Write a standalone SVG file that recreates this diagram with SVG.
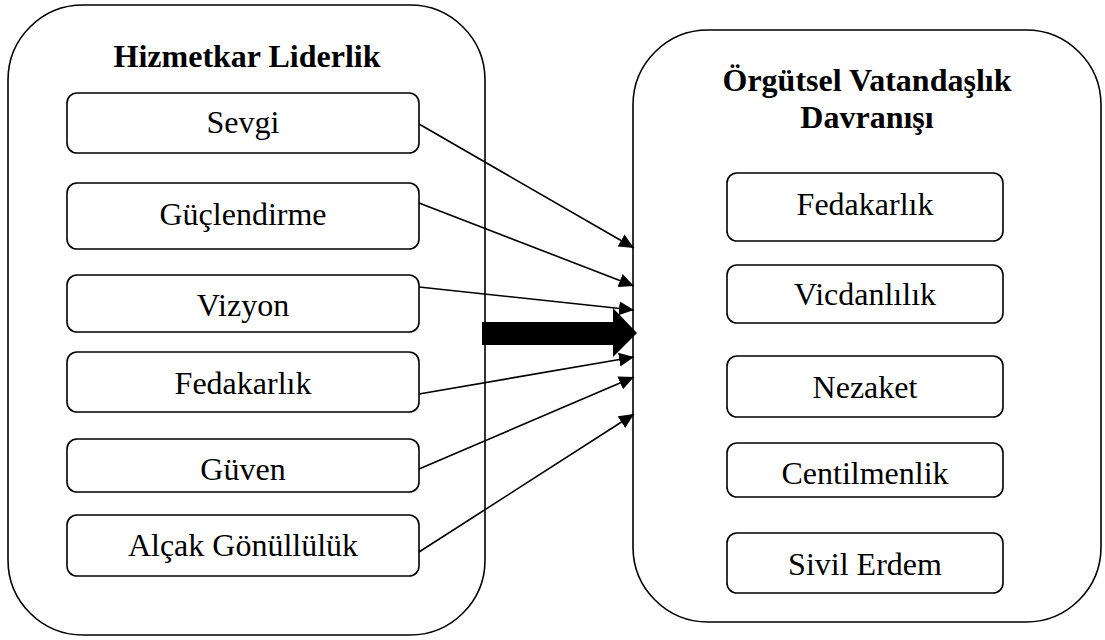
<svg xmlns="http://www.w3.org/2000/svg" width="1105" height="640" viewBox="0 0 1105 640">
<style>
.outer{fill:none;stroke:#000;stroke-width:1.6}
.box{fill:#fff;stroke:#000;stroke-width:1.6}
.con{stroke:#000;stroke-width:1.6;fill:none;marker-end:url(#ah)}
</style>
<defs>
<marker id="ah" markerUnits="userSpaceOnUse" markerWidth="16" markerHeight="14" refX="15" refY="7" orient="auto">
<path d="M0,0 L15,7 L0,14 Z" fill="#000"/>
</marker>
</defs>
<rect width="1105" height="640" fill="#fff"/>
<g id="hizmetkar-liderlik">
<rect class="outer" x="8" y="5" width="477" height="630" rx="75" ry="75"/>
<text x="247" y="67" font-family="Liberation Serif, serif" font-size="32" font-weight="bold" text-anchor="middle">Hizmetkar Liderlik</text>
</g>
<g id="sevgi"><rect class="box" x="67" y="93" width="352" height="60" rx="10"/><text x="243" y="133" font-family="Liberation Serif, serif" font-size="32" text-anchor="middle">Sevgi</text></g>
<g id="guclendirme"><rect class="box" x="67" y="183" width="352" height="66" rx="10"/><text x="243" y="225" font-family="Liberation Serif, serif" font-size="32" text-anchor="middle">Güçlendirme</text></g>
<g id="vizyon"><rect class="box" x="67" y="275" width="352" height="57" rx="10"/><text x="243" y="316" font-family="Liberation Serif, serif" font-size="32" text-anchor="middle">Vizyon</text></g>
<g id="fedakarlik-l"><rect class="box" x="67" y="352" width="352" height="60" rx="10"/><text x="243" y="394" font-family="Liberation Serif, serif" font-size="32" text-anchor="middle">Fedakarlık</text></g>
<g id="guven"><rect class="box" x="67" y="439" width="352" height="53" rx="10"/><text x="243" y="480" font-family="Liberation Serif, serif" font-size="32" text-anchor="middle">Güven</text></g>
<g id="alcak"><rect class="box" x="67" y="515" width="352" height="61" rx="10"/><text x="243" y="556" font-family="Liberation Serif, serif" font-size="32" text-anchor="middle">Alçak Gönüllülük</text></g>
<g id="orgutsel-vatandaslik">
<rect class="outer" x="633" y="30" width="468" height="592" rx="75" ry="75"/>
<text x="867" y="91" font-family="Liberation Serif, serif" font-size="32" font-weight="bold" text-anchor="middle">Örgütsel Vatandaşlık</text>
<text x="867" y="128" font-family="Liberation Serif, serif" font-size="32" font-weight="bold" text-anchor="middle">Davranışı</text>
</g>
<g id="fedakarlik-r"><rect class="box" x="727" y="173" width="276" height="68" rx="10"/><text x="865" y="215" font-family="Liberation Serif, serif" font-size="32" text-anchor="middle">Fedakarlık</text></g>
<g id="vicdanlilik"><rect class="box" x="727" y="265" width="276" height="58" rx="10"/><text x="865" y="305" font-family="Liberation Serif, serif" font-size="32" text-anchor="middle">Vicdanlılık</text></g>
<g id="nezaket"><rect class="box" x="727" y="356" width="276" height="61" rx="10"/><text x="865" y="398" font-family="Liberation Serif, serif" font-size="32" text-anchor="middle">Nezaket</text></g>
<g id="centilmenlik"><rect class="box" x="727" y="443" width="276" height="54" rx="10"/><text x="865" y="484" font-family="Liberation Serif, serif" font-size="32" text-anchor="middle">Centilmenlik</text></g>
<g id="sivil-erdem"><rect class="box" x="727" y="533" width="276" height="60" rx="10"/><text x="865" y="575" font-family="Liberation Serif, serif" font-size="32" text-anchor="middle">Sivil Erdem</text></g>
<g id="connectors">
<line class="con" x1="419" y1="124" x2="634" y2="248"/>
<line class="con" x1="419" y1="203" x2="634" y2="286"/>
<line class="con" x1="419" y1="287" x2="634" y2="310"/>
<line class="con" x1="419" y1="394" x2="634" y2="357"/>
<line class="con" x1="419" y1="469" x2="634" y2="377"/>
<line class="con" x1="419" y1="552" x2="634" y2="414"/>
<polygon points="482,322 613,322 613,308 637,333 613,357 613,345 482,345" fill="#000"/>
</g>
</svg>
